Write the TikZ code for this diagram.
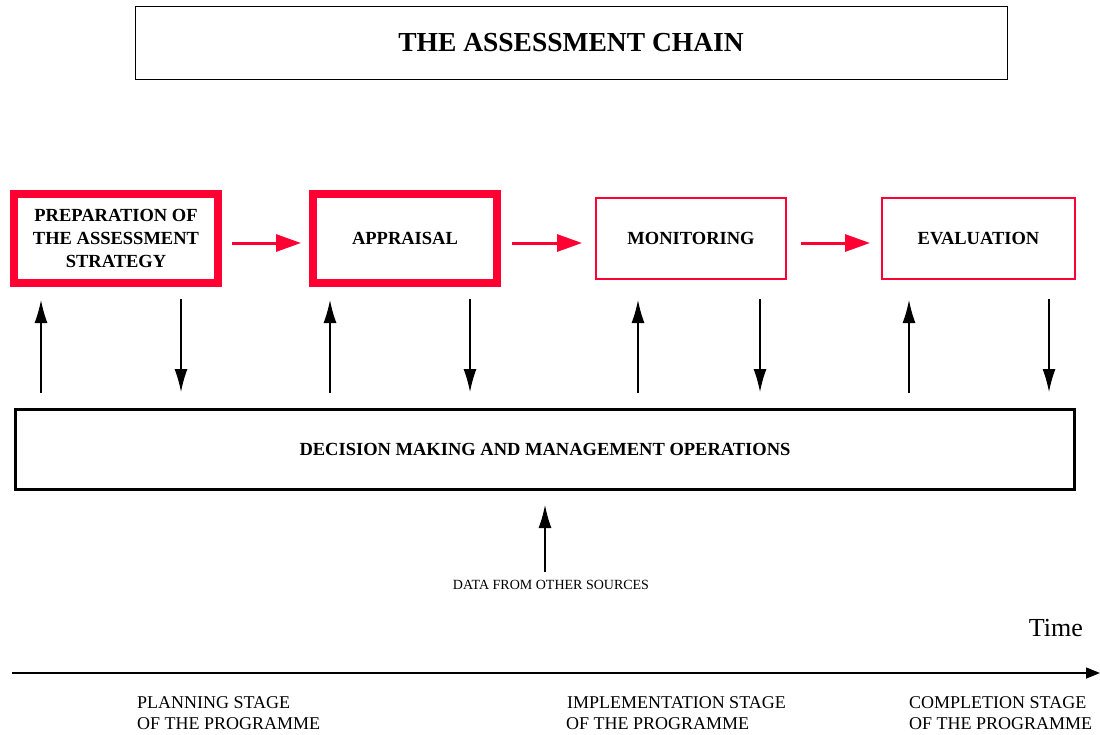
\documentclass[tikz,border=0pt]{standalone}
\usepackage{fontspec}
\setmainfont{Liberation Serif}
\usetikzlibrary{arrows.meta}
\definecolor{chainred}{HTML}{FF0033}
\begin{document}
\begin{tikzpicture}[x=1pt,y=-1pt,
  boxfont/.style={font=\bfseries\fontsize{18.5}{23}\selectfont},
  thickbox/.style={draw=chainred,line width=8pt,fill=white,inner sep=0pt,boxfont,align=center},
  thinbox/.style={draw=chainred,line width=2.5pt,fill=white,inner sep=0pt,boxfont,align=center},
  redarrow/.style={draw=chainred,line width=3pt,-{Triangle[length=25pt,width=17pt]}},
  blackarrow/.style={draw=black,line width=1.3pt,-{Latex[length=23pt,width=13pt]}},
  stagelabel/.style={font=\fontsize{18}{21}\selectfont,align=left,anchor=north west,inner sep=0pt}]
\useasboundingbox (0,0) rectangle (1100,734);
% title
\node[draw,line width=1pt,minimum width=872pt,minimum height=73pt,font=\bfseries\fontsize{27.5}{32}\selectfont] (title) at (571,42.5) {THE ASSESSMENT CHAIN};
% stage boxes
\node[thickbox,minimum width=204pt,minimum height=89pt] (prep) at (116,238.5) {PREPARATION OF\\THE ASSESSMENT\\STRATEGY};
\node[thickbox,minimum width=184pt,minimum height=89pt] (appr) at (405,238.5) {APPRAISAL};
\node[thinbox,minimum width=190pt,minimum height=81pt] (moni) at (691,238.5) {MONITORING};
\node[thinbox,minimum width=193pt,minimum height=81pt] (eval) at (978.5,238.5) {EVALUATION};
% red arrows
\draw[redarrow] (232,243) -- (301,243);
\draw[redarrow] (512,243) -- (582,243);
\draw[redarrow] (801,243) -- (870,243);
% decision box
\node[draw,line width=3pt,minimum width=1059pt,minimum height=80pt,boxfont] (dec) at (545,449.5) {DECISION MAKING AND MANAGEMENT OPERATIONS};
% vertical arrows
\foreach \x in {41,330,638,909} \draw[blackarrow] (\x,393) -- (\x,300);
\foreach \x in {181,470,760,1049} \draw[blackarrow] (\x,299) -- (\x,392);
% data
\node[font=\fontsize{14}{16}\selectfont,inner sep=0pt] (data) at (551,584.5) {DATA FROM OTHER SOURCES};
\coordinate (datatop) at (545,505);
\draw[blackarrow] (545,572) -- (datatop);
% time axis
\node[font=\fontsize{26}{30}\selectfont,anchor=east,inner sep=0pt] (time) at (1083,628) {Time};
\coordinate (t0) at (12,673);
\coordinate (t1) at (1100,673);
\draw[line width=1.5pt,-{Triangle[length=14pt,width=11pt]}] (t0) -- (t1);
\node[stagelabel] (plan) at (137,696) {PLANNING STAGE\\OF THE PROGRAMME};
\node[stagelabel] (impl) at (566,696) {\hspace*{1pt}IMPLEMENTATION STAGE\\OF THE PROGRAMME};
\node[stagelabel] (comp) at (909,696) {COMPLETION STAGE\\OF THE PROGRAMME};
\end{tikzpicture}
\end{document}
